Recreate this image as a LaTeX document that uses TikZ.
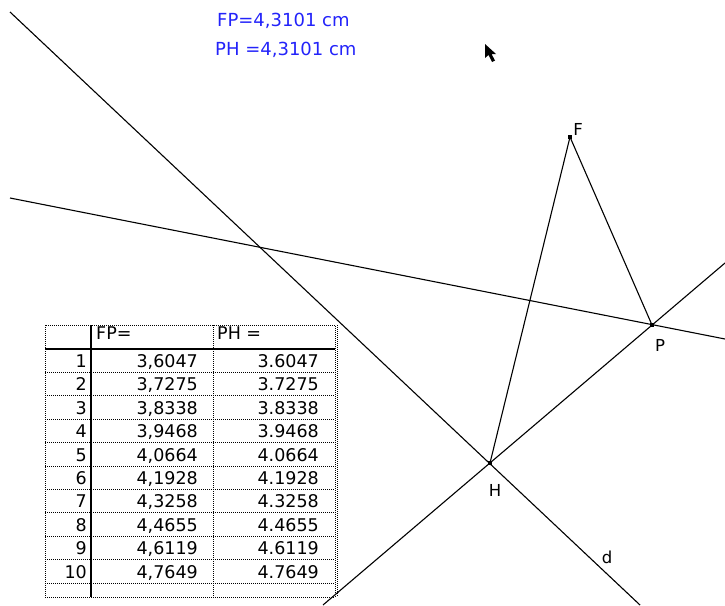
\documentclass[tikz,border=0pt]{standalone}
\usepackage{fontspec}
\setmainfont{DejaVu Sans}
\usetikzlibrary{calc}
\definecolor{cabriblue}{RGB}{35,35,250}

\begin{document}
\begin{tikzpicture}[x=1pt,y=-1pt,
  geoline/.style={line width=1.1pt},
  pt/.style={fill,rectangle,minimum size=4pt,inner sep=0pt},
  lbl/.style={font=\fontsize{16.5}{18}\selectfont,inner sep=0pt},
  meas/.style={font=\fontsize{18}{20}\selectfont,text=cabriblue,inner sep=0pt,anchor=base west},
  grid/.style={line width=0.9pt,dash pattern=on 1pt off 1pt},
  cell/.style={font=\fontsize{17.5}{20}\selectfont,inner sep=0pt,anchor=base east}]
\useasboundingbox (0,0) rectangle (725,605);
% points
\node[pt] (F) at (570,137) {};
\node[pt] (P) at (652,325) {};
\node[pt] (H) at (490,463) {};
% ends of the lines
\coordinate (d1) at (10,12);
\coordinate (d2) at (640,605);
\coordinate (m1) at (10,198);
\coordinate (m2) at (725,339);
\coordinate (h1) at (323,605);
\coordinate (h2) at (725,263);
\draw[geoline] (d1) -- (d2);
\draw[geoline] (m1) -- (m2);
\draw[geoline] (h1) -- (h2);
\draw[geoline] (F.center) -- (H.center);
\draw[geoline] (F.center) -- (P.center);
\node[lbl] (Fl) at (578,129) {F};
\node[lbl] (Pl) at (660,345) {P};
\node[lbl] (Hl) at (495,490) {H};
\node[lbl] (dl) at (607,557) {d};
% measures
\node[meas] (fp) at (217,27) {FP=4,3101 cm};
\node[meas] (ph) at (215,55) {PH =4,3101 cm};
% pointer
\fill (485,44) -- (485,58) -- (488.5,55) -- (492,62) -- (495,60.5) -- (491.5,54) -- (496,54) -- cycle;
% table
\draw[grid] (45,325) rectangle (335,597);
\draw[grid] (337,325) -- (337,597);
\draw[grid] (213,325) -- (213,597);
\foreach \r in {1,...,10} \draw[grid] (45,{349+23.4*\r}) -- (335,{349+23.4*\r});
\draw[line width=1.6pt] (45,349) -- (335,349);
\draw[line width=1.6pt] (91,325) -- (91,597);
\node[cell,anchor=base west] (hfp) at (96,339) {FP=};
\node[cell,anchor=base west] (hph) at (217,339) {PH =};
\foreach \i/\u/\v in {1/3/6047,2/3/7275,3/3/8338,4/3/9468,5/4/0664,6/4/1928,7/4/3258,8/4/4655,9/4/6119,10/4/7649}{
  \node[cell] (n\i) at (87,{349+23.4*\i-5}) {\i};
  \node[cell] (fp\i) at (198,{349+23.4*\i-5}) {\u,\v};
  \node[cell] (ph\i) at (319,{349+23.4*\i-5}) {\u.\v};
}
\end{tikzpicture}
\end{document}
